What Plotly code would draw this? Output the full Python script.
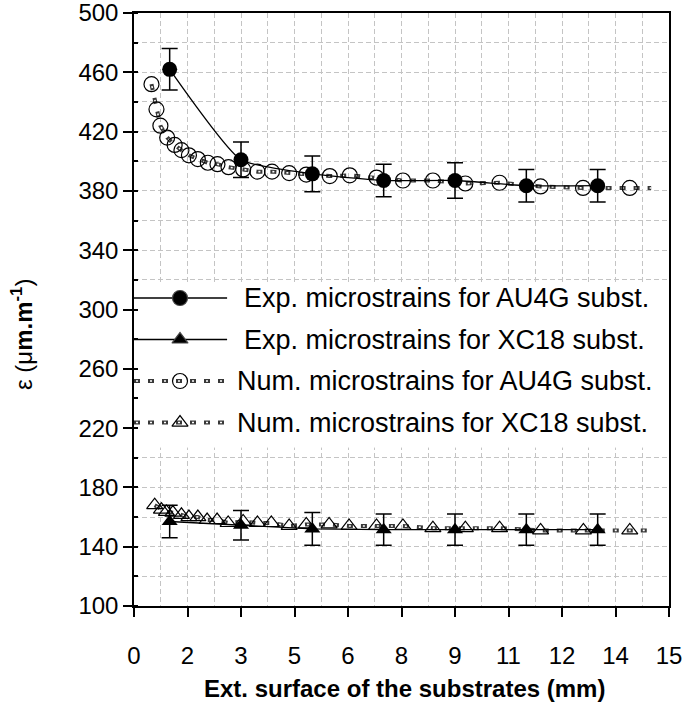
import plotly.graph_objects as go

# ---- data -------------------------------------------------------------
# Experimental microstrains (with error bars)
exp_x = [1, 3, 5, 7, 9, 11, 13]
exp_au4g = [462, 401, 391.5, 387, 387, 383.5, 383.5]
exp_au4g_err = [14, 12, 12, 11, 12, 11, 11]
exp_xc18 = [157, 154.5, 152, 151.5, 151.5, 151.5, 151.5]
exp_xc18_err = [11, 10, 11, 10.5, 10.5, 10.5, 10.5]

# Numerical microstrains (last point closes the curve, no marker)
num_au4g_x = [0.49, 0.63, 0.74, 0.93, 1.14, 1.33, 1.54, 1.79, 2.07, 2.34, 2.65,
              3.06, 3.46, 3.87, 4.35, 4.83, 5.49, 6.05, 6.8, 7.54, 8.38, 9.29,
              10.25, 11.4, 12.59, 13.9, 14.5]
num_au4g_y = [452, 435, 424, 416, 411, 407.5, 404, 401.5, 399, 398, 396,
              394.5, 393, 393, 392, 391, 390, 390.5, 389, 387, 387, 385,
              385.5, 383, 382, 382, 382]
num_xc18_x = [0.58, 0.77, 0.91, 1.09, 1.33, 1.54, 1.79, 2.05, 2.33, 2.64, 3.06,
              3.46, 3.85, 4.35, 4.83, 5.47, 6.03, 6.8, 7.54, 8.38, 9.29, 10.25,
              11.4, 12.6, 13.9, 14.5]
num_xc18_y = [168, 165, 163.5, 163, 161.5, 160, 160, 158, 158, 156, 157,
              156, 156, 154, 155, 155, 154, 154, 154, 152.5, 152.5, 152.5,
              151, 151, 151, 151]

x_tickvals = [0, 1.5, 3, 4.5, 6, 7.5, 9, 10.5, 12, 13.5, 15]
x_ticktext = ["0", "2", "3", "5", "6", "8", "9", "11", "12", "14", "15"]

legend_labels = ["Exp. microstrains for AU4G subst.",
                 "Exp. microstrains for XC18 subst.",
                 "Num. microstrains for AU4G subst.",
                 "Num. microstrains for XC18 subst."]

# ---- styling ------------------------------------------------------------
FONT = "Liberation Sans, Arial, sans-serif"
DARK = "#383838"
GRID = "#c4c4c4"
DASH_OUT = "6px,8px"           # square-dot pattern
DASH_IN = "0px,2px,2px,10px"   # white core -> hollow squares


def square_dot(x, y, xaxis="x", yaxis="y"):
    """Hollow square-dot line: dark dashes with a white core."""
    return [
        go.Scatter(x=x, y=y, mode="lines", xaxis=xaxis, yaxis=yaxis,
                   line=dict(color=DARK, width=4, dash=DASH_OUT),
                   hoverinfo="skip", showlegend=False),
        go.Scatter(x=x, y=y, mode="lines", xaxis=xaxis, yaxis=yaxis,
                   line=dict(color="white", width=1.6, dash=DASH_IN),
                   hoverinfo="skip", showlegend=False),
    ]


fig = go.Figure()

# legend panel (white filled area on the main axes, drawn first to hide the grid)
panel_x = [0.05, 14.95, 14.95, 0.05, 0.05]
panel_y = [207.2, 207.2, 317.9, 317.9, 207.2]
fig.add_trace(go.Scatter(x=panel_x, y=panel_y, mode="lines", fill="toself",
                         fillcolor="white", line=dict(width=1, color="white"),
                         showlegend=False, hoverinfo="skip"))

# numerical curves
for t in square_dot(num_au4g_x, num_au4g_y):
    fig.add_trace(t)
for t in square_dot(num_xc18_x, num_xc18_y):
    fig.add_trace(t)
fig.add_trace(go.Scatter(
    x=num_au4g_x[:-1], y=num_au4g_y[:-1], mode="markers", showlegend=False,
    marker=dict(symbol="circle-open", size=15, color="black", line=dict(width=1.2))))
fig.add_trace(go.Scatter(
    x=num_xc18_x[:-1], y=num_xc18_y[:-1], mode="markers", showlegend=False,
    marker=dict(symbol="triangle-up-open", size=14, color="black", line=dict(width=1.2))))

# experimental curves
fig.add_trace(go.Scatter(
    x=exp_x, y=exp_au4g, mode="lines+markers", showlegend=False,
    line=dict(color="black", width=1.3, shape="spline", smoothing=0.5),
    marker=dict(symbol="circle", size=15, color="black"),
    error_y=dict(type="data", array=exp_au4g_err, color="black", thickness=1.5, width=8)))
fig.add_trace(go.Scatter(
    x=exp_x, y=exp_xc18, mode="lines+markers", showlegend=False,
    line=dict(color="black", width=1.3),
    marker=dict(symbol="triangle-up", size=14, color="black"),
    error_y=dict(type="data", array=exp_xc18_err, color="black", thickness=1.5, width=8)))

# ---- legend (overlay axis spanning the plot area, 0..1) ------------------
row_y = [0.5194, 0.4494, 0.3794, 0.3094]
sample_x = [0.0, 0.174]
mark_x = 0.086
text_x = [0.2019, 0.2019, 0.1888, 0.1888]

for i in range(2):
    fig.add_trace(go.Scatter(x=sample_x, y=[row_y[i]] * 2, mode="lines",
                             xaxis="x2", yaxis="y2", showlegend=False, hoverinfo="skip",
                             line=dict(color="black", width=1.3)))
for i in (2, 3):
    for t in square_dot(sample_x, [row_y[i]] * 2, "x2", "y2"):
        fig.add_trace(t)
symbols = ["circle", "triangle-up", "circle-open", "triangle-up-open"]
sizes = [15, 14, 15, 14]
for i in range(4):
    fig.add_trace(go.Scatter(x=[mark_x], y=[row_y[i]], mode="markers",
                             xaxis="x2", yaxis="y2", showlegend=False, hoverinfo="skip",
                             marker=dict(symbol=symbols[i], size=sizes[i], color="black",
                                         line=dict(width=1.2))))
    fig.add_annotation(x=text_x[i], y=row_y[i], xref="x2", yref="y2",
                       text=legend_labels[i], showarrow=False,
                       xanchor="left", yanchor="middle",
                       font=dict(family=FONT, size=27, color="black"))

# ---- axes -------------------------------------------------------------
axis_common = dict(showline=True, linecolor="black", linewidth=1.5, mirror=True,
                   ticks="outside", ticklen=9, tickwidth=1.5, tickcolor="black",
                   showgrid=True, gridcolor=GRID, gridwidth=1, griddash="5px,3px",
                   zeroline=False, ticklabeloverflow="allow", automargin=False,
                   tickfont=dict(family=FONT, size=24, color="black"))

x_minor = [v + 0.75 for v in x_tickvals[:-1]]

fig.update_layout(
    width=682, height=707, autosize=False,
    margin=dict(l=134, r=13, t=13, b=101),
    plot_bgcolor="white", paper_bgcolor="white",
    showlegend=False,
    xaxis=dict(range=[0, 15], tickmode="array", tickvals=x_tickvals, ticktext=x_ticktext,
               ticklabelstandoff=18,
               minor=dict(tickmode="array", tickvals=x_minor, showgrid=True,
                          gridcolor=GRID, griddash="5px,3px", ticks=""),
               **axis_common),
    yaxis=dict(range=[100, 500], tick0=100, dtick=40, tickmode="linear",
               minor=dict(tickmode="linear", tick0=100, dtick=20, showgrid=True,
                          gridcolor=GRID, griddash="5px,3px",
                          ticks="inside", ticklen=4, tickcolor="black"),
               **axis_common),
    xaxis2=dict(overlaying="x", anchor="y2", range=[0, 1], visible=False, automargin=False),
    yaxis2=dict(overlaying="y", anchor="x2", range=[0, 1], visible=False, automargin=False),
)

# axis titles
fig.add_annotation(x=0.5056, y=-0.1383, xref="paper", yref="paper",
                   text="<b>Ext. surface of the substrates (mm)</b>", showarrow=False,
                   xanchor="center", yanchor="middle",
                   font=dict(family=FONT, size=24, color="black"))
fig.add_annotation(x=-0.2093, y=0.457, xref="paper", yref="paper",
                   text="ε (μ<b>m.m<sup>-1</sup></b>)", showarrow=False, textangle=-90,
                   xanchor="center", yanchor="middle",
                   font=dict(family=FONT, size=24, color="black"))

fig.write_html("out.html")
